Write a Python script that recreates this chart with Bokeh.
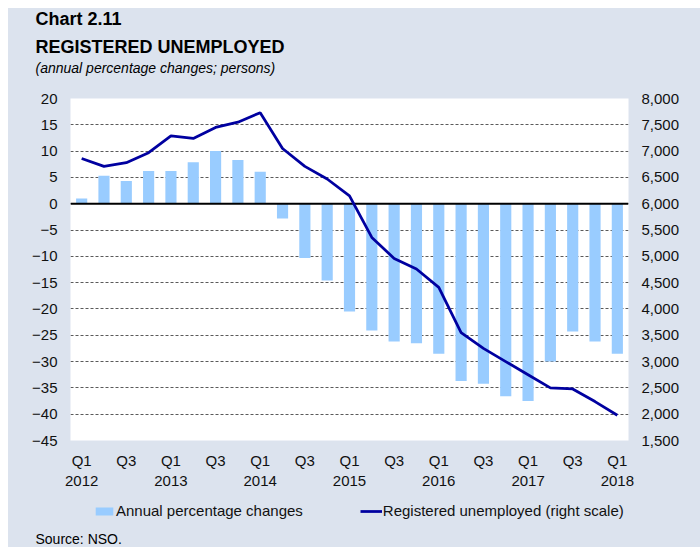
import numpy as np
from bokeh.plotting import figure
from bokeh.layouts import column
from bokeh.models import (Range1d, LinearAxis, FixedTicker, Span, Legend, Label,
                          LegendItem, ColumnDataSource, NumeralTickFormatter)
from bokeh.embed import file_html
from bokeh.resources import INLINE

# ---- data -------------------------------------------------------------
quarters = ["Q1 2012", "Q2 2012", "Q3 2012", "Q4 2012",
            "Q1 2013", "Q2 2013", "Q3 2013", "Q4 2013",
            "Q1 2014", "Q2 2014", "Q3 2014", "Q4 2014",
            "Q1 2015", "Q2 2015", "Q3 2015", "Q4 2015",
            "Q1 2016", "Q2 2016", "Q3 2016", "Q4 2016",
            "Q1 2017", "Q2 2017", "Q3 2017", "Q4 2017",
            "Q1 2018"]
annual_change = [1.0, 5.3, 4.3, 6.2, 6.2, 7.9, 10.0, 8.3, 6.1,
                 -2.8, -10.3, -14.6, -20.5, -24.1, -26.2, -26.5,
                 -28.5, -33.7, -34.2, -36.6, -37.5, -30.0, -24.3,
                 -26.2, -28.5]
registered_unemployed = [6860, 6710, 6780, 6970, 7290, 7240, 7450, 7550,
                         7730, 7050, 6710, 6470, 6150, 5360, 4960, 4760,
                         4410, 3550, 3250, 3000, 2750, 2500, 2480, 2240,
                         1980]
x_tick_labels = ["Q1\n2012", "Q3", "Q1\n2013", "Q3", "Q1\n2014", "Q3",
                 "Q1\n2015", "Q3", "Q1\n2016", "Q3", "Q1\n2017", "Q3",
                 "Q1\n2018"]
left_ticks = [20, 15, 10, 5, 0, -5, -10, -15, -20, -25, -30, -35, -40, -45]
right_ticks = [8000, 7500, 7000, 6500, 6000, 5500, 5000, 4500, 4000,
               3500, 3000, 2500, 2000, 1500]

FONT = "Liberation Sans"
BG = "#DCE3EE"
BAR_COLOR = "#99CCFF"
LINE_COLOR = "#0000A0"
W = 692


def blank(h):
    f = figure(width=W, height=h, output_backend="svg", toolbar_location=None,
               title=None, x_axis_type=None, y_axis_type=None,
               x_range=Range1d(0, 1), y_range=Range1d(0, 1),
               min_border=0, min_border_left=0, min_border_right=0,
               min_border_top=0, min_border_bottom=0, frame_align=False,
               background_fill_color=BG, border_fill_color=BG,
               outline_line_color=None)
    return f


# ---- header -----------------------------------------------------------
header = blank(82)
header.add_layout(Label(x=27, y=72, x_units="screen", y_units="screen",
                        text="Chart 2.11", text_font=FONT, text_font_style="bold",
                        text_font_size="18px", text_baseline="middle",
                        text_color="#000000"))
header.add_layout(Label(x=27, y=44, x_units="screen", y_units="screen",
                        text="REGISTERED UNEMPLOYED", text_font=FONT,
                        text_font_style="bold", text_font_size="18px",
                        text_baseline="middle", text_color="#000000"))
header.add_layout(Label(x=27, y=23, x_units="screen", y_units="screen",
                        text="(annual percentage changes; persons)", text_font=FONT,
                        text_font_style="italic", text_font_size="14px",
                        text_baseline="middle", text_color="#000000"))

# ---- chart ------------------------------------------------------------
xpos = list(range(len(quarters)))
src = ColumnDataSource(dict(x=xpos, q=quarters, pct=annual_change,
                            reg=registered_unemployed))

p = figure(width=W, height=401, output_backend="svg", toolbar_location=None,
           title=None,
           x_range=Range1d(-0.5, len(quarters) - 0.5),
           y_range=Range1d(min(left_ticks), max(left_ticks)),
           min_border_left=62, min_border_right=72,
           min_border_top=8, min_border_bottom=48,
           border_fill_color=BG, background_fill_color="white",
           outline_line_color=None)
p.extra_y_ranges = {"right": Range1d(min(right_ticks), max(right_ticks))}

bars = p.vbar(x="x", top="pct", width=0.5, source=src,
              fill_color=BAR_COLOR, line_color=None)

p.add_layout(Span(location=0, dimension="width", line_color="black",
                  line_width=2, level="glyph"))

ln = p.line(x="x", y="reg", source=src, y_range_name="right",
            line_color=LINE_COLOR, line_width=2.75, level="overlay")

tick_pos = xpos[::2]
p.xaxis.ticker = FixedTicker(ticks=tick_pos)
p.xaxis.major_label_overrides = {k: lab for k, lab in zip(tick_pos, x_tick_labels)}
p.yaxis.ticker = FixedTicker(ticks=left_ticks)

right_axis = LinearAxis(y_range_name="right", ticker=FixedTicker(ticks=right_ticks),
                        formatter=NumeralTickFormatter(format="0,0"))
p.add_layout(right_axis, "right")

for ax in [p.xaxis[0], p.yaxis[0], right_axis]:
    ax.axis_line_color = None
    ax.major_tick_line_color = None
    ax.minor_tick_line_color = None
    ax.major_tick_in = 0
    ax.major_tick_out = 0
    ax.major_label_text_font = FONT
    ax.major_label_text_font_size = "15px"
    ax.major_label_text_color = "#111111"
p.xaxis.major_label_standoff = 11
p.yaxis[0].major_label_standoff = 13
right_axis.major_label_standoff = 13

p.xgrid.grid_line_color = None
p.ygrid.ticker = FixedTicker(ticks=left_ticks)
p.ygrid.grid_line_color = "#5A5A5A"
p.ygrid.grid_line_dash = "3 2"
p.ygrid.grid_line_width = 1

# ---- footer (legend + source) ----------------------------------------
footer = blank(56)
# one invisible (NaN) row so the legend can draw its swatches
swatch_src = ColumnDataSource(dict(x=np.array([np.nan]), top=np.array([np.nan]),
                                   y=np.array([np.nan])))
leg_bar = footer.vbar(x="x", top="top", width=0.5, source=swatch_src,
                      fill_color=BAR_COLOR, line_color=None)
leg_line = footer.line(x="x", y="y", source=swatch_src,
                       line_color=LINE_COLOR, line_width=2.75)
legend = Legend(items=[LegendItem(label="Annual percentage changes", renderers=[leg_bar]),
                       LegendItem(label="Registered unemployed (right scale)", renderers=[leg_line])],
                location=(85, 28), orientation="horizontal", spacing=57,
                padding=0, margin=0, glyph_width=22, glyph_height=10,
                label_standoff=1, label_height=17,
                label_text_font=FONT, label_text_font_size="15px",
                label_text_color="#111111",
                background_fill_alpha=0, border_line_color=None)
footer.add_layout(legend, "center")
footer.add_layout(Label(x=27, y=9, x_units="screen", y_units="screen",
                        text="Source: NSO.", text_font=FONT,
                        text_font_size="14px", text_baseline="middle",
                        text_color="#000000"))

layout = column(header, p, footer, spacing=0, margin=(8, 0, 0, 8),
                styles={"background-color": BG})

open("out.html", "w").write(file_html(layout, INLINE))
